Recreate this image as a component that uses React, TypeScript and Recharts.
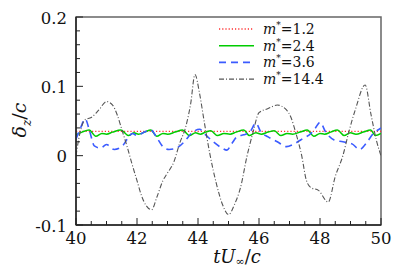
import React from "react";
import { LineChart, Line, XAxis, YAxis, ReferenceArea } from "recharts";

// time axis tU/c
const xMajor = [40, 42, 44, 46, 48, 50];
const xTicks = [
  40, 40.5, 41, 41.5, 42, 42.5, 43, 43.5, 44, 44.5, 45, 45.5, 46, 46.5, 47, 47.5,
  48, 48.5, 49, 49.5, 50,
];
const yTicks = [
  -0.1, -0.08, -0.06, -0.04, -0.02, 0, 0.02, 0.04, 0.06, 0.08, 0.1, 0.12, 0.14,
  0.16, 0.18, 0.2,
];

// m*=1.2
const m12 = [
  { t: 40, d: 0.035 }, { t: 42, d: 0.035 }, { t: 44, d: 0.035 },
  { t: 46, d: 0.035 }, { t: 48, d: 0.035 }, { t: 50, d: 0.035 },
];

// m*=2.4
const m24 = [
  { t: 40.0, d: 0.03 }, { t: 40.2, d: 0.034 }, { t: 40.43, d: 0.037 }, { t: 40.65, d: 0.028 },
  { t: 40.85, d: 0.032 }, { t: 41.0, d: 0.031 }, { t: 41.2, d: 0.034 }, { t: 41.47, d: 0.037 },
  { t: 41.72, d: 0.029 }, { t: 41.9, d: 0.033 }, { t: 42.05, d: 0.031 }, { t: 42.25, d: 0.034 },
  { t: 42.45, d: 0.037 }, { t: 42.65, d: 0.028 }, { t: 42.85, d: 0.032 }, { t: 43.0, d: 0.031 },
  { t: 43.25, d: 0.034 }, { t: 43.49, d: 0.037 }, { t: 43.72, d: 0.029 }, { t: 43.92, d: 0.033 },
  { t: 44.08, d: 0.031 }, { t: 44.25, d: 0.034 }, { t: 44.42, d: 0.036 }, { t: 44.64, d: 0.029 },
  { t: 44.85, d: 0.032 }, { t: 45.05, d: 0.031 }, { t: 45.25, d: 0.034 }, { t: 45.5, d: 0.037 },
  { t: 45.68, d: 0.029 }, { t: 45.9, d: 0.033 }, { t: 46.08, d: 0.031 }, { t: 46.3, d: 0.034 },
  { t: 46.5, d: 0.036 }, { t: 46.72, d: 0.029 }, { t: 46.92, d: 0.032 }, { t: 47.1, d: 0.031 },
  { t: 47.35, d: 0.034 }, { t: 47.58, d: 0.037 }, { t: 47.8, d: 0.028 }, { t: 48.0, d: 0.032 },
  { t: 48.15, d: 0.031 }, { t: 48.35, d: 0.034 }, { t: 48.57, d: 0.037 }, { t: 48.79, d: 0.029 },
  { t: 49.0, d: 0.033 }, { t: 49.18, d: 0.031 }, { t: 49.42, d: 0.034 }, { t: 49.66, d: 0.037 },
  { t: 49.82, d: 0.029 }, { t: 50.0, d: 0.032 },
];

// m*=3.6
const m36 = [
  { t: 40.0, d: 0.024 }, { t: 40.15, d: 0.04 }, { t: 40.3, d: 0.053 }, { t: 40.45, d: 0.035 },
  { t: 40.6, d: 0.014 }, { t: 40.8, d: 0.011 }, { t: 41.0, d: 0.016 }, { t: 41.25, d: 0.009 },
  { t: 41.5, d: 0.013 }, { t: 41.7, d: 0.025 }, { t: 41.85, d: 0.032 }, { t: 42.0, d: 0.029 },
  { t: 42.2, d: 0.033 }, { t: 42.45, d: 0.037 }, { t: 42.65, d: 0.026 }, { t: 42.85, d: 0.013 },
  { t: 43.05, d: 0.009 }, { t: 43.3, d: 0.011 }, { t: 43.55, d: 0.02 }, { t: 43.8, d: 0.033 },
  { t: 44.05, d: 0.038 }, { t: 44.25, d: 0.03 }, { t: 44.5, d: 0.02 }, { t: 44.75, d: 0.012 },
  { t: 44.95, d: 0.008 }, { t: 45.1, d: 0.017 }, { t: 45.3, d: 0.028 }, { t: 45.5, d: 0.03 },
  { t: 45.7, d: 0.034 }, { t: 45.9, d: 0.047 }, { t: 46.05, d: 0.035 }, { t: 46.3, d: 0.027 },
  { t: 46.6, d: 0.02 }, { t: 46.9, d: 0.013 }, { t: 47.15, d: 0.017 }, { t: 47.45, d: 0.025 },
  { t: 47.7, d: 0.032 }, { t: 47.85, d: 0.04 }, { t: 48.0, d: 0.048 }, { t: 48.2, d: 0.033 },
  { t: 48.45, d: 0.023 }, { t: 48.75, d: 0.02 }, { t: 49.05, d: 0.017 }, { t: 49.3, d: 0.009 },
  { t: 49.55, d: 0.02 }, { t: 49.75, d: 0.032 }, { t: 49.9, d: 0.037 }, { t: 50.0, d: 0.04 },
];

// m*=14.4
const m144 = [
  { t: 40.0, d: 0.0 }, { t: 40.13, d: 0.033 }, { t: 40.3, d: 0.052 }, { t: 40.5, d: 0.055 },
  { t: 40.75, d: 0.066 }, { t: 41.0, d: 0.078 }, { t: 41.2, d: 0.073 }, { t: 41.35, d: 0.059 },
  { t: 41.5, d: 0.038 }, { t: 41.67, d: 0.014 }, { t: 41.83, d: -0.011 }, { t: 42.0, d: -0.036 },
  { t: 42.15, d: -0.058 }, { t: 42.3, d: -0.072 }, { t: 42.48, d: -0.078 }, { t: 42.65, d: -0.06 },
  { t: 42.85, d: -0.036 }, { t: 43.0, d: -0.025 }, { t: 43.2, d: -0.01 }, { t: 43.4, d: 0.018 },
  { t: 43.6, d: 0.042 }, { t: 43.76, d: 0.075 }, { t: 43.9, d: 0.117 }, { t: 44.05, d: 0.09 },
  { t: 44.2, d: 0.05 }, { t: 44.4, d: 0.0 }, { t: 44.6, d: -0.04 }, { t: 44.8, d: -0.07 },
  { t: 45.0, d: -0.085 }, { t: 45.2, d: -0.07 }, { t: 45.4, d: -0.045 }, { t: 45.6, d: -0.002 },
  { t: 45.8, d: 0.033 }, { t: 46.0, d: 0.062 }, { t: 46.3, d: 0.068 }, { t: 46.6, d: 0.073 },
  { t: 46.9, d: 0.066 }, { t: 47.05, d: 0.055 }, { t: 47.2, d: 0.034 }, { t: 47.4, d: 0.0 },
  { t: 47.55, d: -0.035 }, { t: 47.7, d: -0.046 }, { t: 47.95, d: -0.05 }, { t: 48.27, d: -0.067 },
  { t: 48.5, d: -0.03 }, { t: 48.75, d: 0.0 }, { t: 48.95, d: 0.035 }, { t: 49.17, d: 0.068 },
  { t: 49.48, d: 0.102 }, { t: 49.67, d: 0.06 }, { t: 49.85, d: 0.022 }, { t: 50.0, d: 0.0 },
];

const series = [
  { key: "m12", label: "1.2", data: m12, color: "#ff3030", dash: "1.2 2", width: 1.4 },
  { key: "m24", label: "2.4", data: m24, color: "#00cc00", dash: undefined, width: 1.5 },
  { key: "m36", label: "3.6", data: m36, color: "#3b5bff", dash: "7 5", width: 1.6 },
  { key: "m144", label: "14.4", data: m144, color: "#555555", dash: "5 2 1 2", width: 1.1 },
];

const serif = "'DejaVu Serif', serif";

const YTick = (props: any) => {
  const { x, y, payload } = props;
  const v = payload.value;
  const major = Math.abs(v * 10 - Math.round(v * 10)) < 1e-6;
  return (
    <g>
      <line x1={x} x2={x + (major ? 7 : 4)} y1={y} y2={y} stroke="#222" />
      {major && (
        <text x={x - 9} y={y + 1} textAnchor="end" dominantBaseline="central"
          style={{ fontFamily: serif, fontSize: 16.5 }} fill="#111">
          {Math.abs(v) < 1e-9 ? "0" : String(v)}
        </text>
      )}
    </g>
  );
};

const XTick = (props: any) => {
  const { x, y, payload } = props;
  const v = payload.value;
  const major = xMajor.includes(v);
  return (
    <g>
      <line x1={x} x2={x} y1={y} y2={y - (major ? 7 : 4)} stroke="#222" />
      {major && (
        <text x={x} y={y + 19} textAnchor="middle" style={{ fontFamily: serif, fontSize: 16.5 }}
          fill="#111">
          {v}
        </text>
      )}
    </g>
  );
};

function ChartLegend() {
  return (
    <svg width={170} height={80} style={{ position: "absolute", left: 215, top: 20 }}>
      {series.map((s, i) => (
        <g key={s.key} transform={`translate(0, ${9 + i * 16.7})`}>
          <line x1={4} x2={39} y1={0} y2={0} stroke={s.color} strokeWidth={s.width}
            strokeDasharray={s.dash} />
          <text x={48} y={5} style={{ fontFamily: serif, fontSize: 14 }} fill="#111">
            <tspan fontStyle="italic">m</tspan>
            <tspan fontSize={9} dy={-6}>*</tspan>
            <tspan dy={6}>=</tspan>
            <tspan>{s.label}</tspan>
          </text>
        </g>
      ))}
    </svg>
  );
}

export default function App() {
  return (
    <div style={{ position: "relative", width: 407, height: 272, background: "#fff" }}>
      <style>{`body{margin:0}`}</style>
      <LineChart width={407} height={272} margin={{ top: 17, right: 26, bottom: 0, left: 0 }}>
        <XAxis dataKey="t" type="number" domain={[40, 50]} ticks={xTicks} interval={0}
          tickSize={0} tickMargin={0} tick={<XTick />} height={47}
          axisLine={{ stroke: "#222", strokeWidth: 1.5 }} allowDataOverflow />
        <YAxis type="number" domain={[-0.1, 0.2]} ticks={yTicks} interval={0}
          tickSize={0} tickMargin={0} tick={<YTick />} width={76}
          axisLine={{ stroke: "#222", strokeWidth: 1.5 }} allowDataOverflow />
        <ReferenceArea x1={40} x2={50} y1={-0.1} y2={0.2} fill="none" stroke="#666"
          strokeWidth={1.5} />
        {series.map((s) => (
          <Line key={s.key} data={s.data} dataKey="d" type="monotone" stroke={s.color}
            strokeWidth={s.width} strokeDasharray={s.dash} dot={false}
            isAnimationActive={false} />
        ))}
      </LineChart>
      <ChartLegend />
      <div style={{ position: "absolute", left: 0, top: 247, width: 474, textAlign: "center",
        fontFamily: serif, fontSize: 18, color: "#111", lineHeight: "20px" }}>
        <i>tU</i><sub style={{ fontSize: 11, lineHeight: 0, verticalAlign: "-2px" }}>∞</sub>/<i>c</i>
      </div>
      <div style={{ position: "absolute", left: 23, top: 120, transform: "translate(-50%, -50%) rotate(-90deg)",
        fontFamily: serif, fontSize: 19, color: "#111", whiteSpace: "nowrap", lineHeight: "24px" }}>
        <i>δ</i><sub style={{ fontSize: 12, fontStyle: "italic" }}>z</sub>/<i>c</i>
      </div>
    </div>
  );
}
